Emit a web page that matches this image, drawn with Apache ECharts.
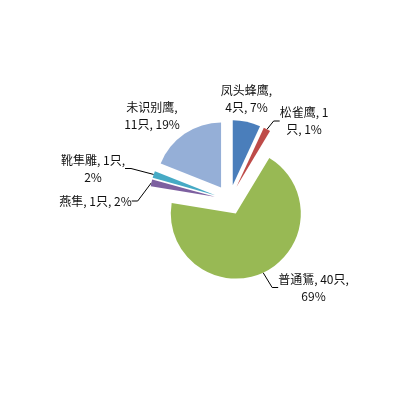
<!DOCTYPE html>
<html><head><meta charset="utf-8">
<script src="https://cdn.jsdelivr.net/npm/echarts@6/dist/echarts.min.js"></script>
<style>html,body{margin:0;padding:0;background:#fff}#c{width:420px;height:420px}</style>
</head><body><div id="c"></div>
<script>
// ---- data ----
const categories = ['凤头蜂鹰', '松雀鹰', '普通鵟', '燕隼', '靴隼雕', '未识别鹰'];
const counts = [4, 1, 40, 1, 1, 11];
const percentLabels = ['7%', '1%', '69%', '2%', '2%', '19%'];

// ---- style / layout ----
const colors = ['#4A7EBB', '#BE4B48', '#98B954', '#7D60A0', '#46AAC5', '#95AFD7'];
const firstLineChars = [5, 6, 9, 0, 8, 5];           // where each label wraps (0 = no wrap)
const labelPos = [[246.5, 98.5], [304, 121], [313.5, 287.5], [95.5, 201], [93, 168.5], [152, 116]];
const showGuide = [false, true, true, true, true, false];
const pieCenter = [229.5, 200];
const pieRadius = 65;
const explode = 15;   // slice explosion distance (px)

function labelText(i) {
  const s = categories[i] + ', ' + counts[i] + '只, ' + percentLabels[i];
  const n = firstLineChars[i];
  if (!n) return s;
  return s.slice(0, n) + '\n' + s.slice(n).replace(/^\s+/, '');
}

const total = counts.reduce((a, b) => a + b, 0);
let cum = 0;
const series = categories.map((name, i) => {
  const mid = (cum + counts[i] / 2) / total * 2 * Math.PI;  // clockwise from 12 o'clock
  cum += counts[i];
  const cx = pieCenter[0] + explode * Math.sin(mid);
  const cy = pieCenter[1] - explode * Math.cos(mid);
  return {
    type: 'pie',
    name: name,
    center: [cx, cy],
    radius: pieRadius,
    startAngle: 90,
    clockwise: true,
    avoidLabelOverlap: false,
    emphasis: { disabled: true },
    silent: true,
    itemStyle: { borderWidth: 0 },
    label: {
      show: false,
      formatter: p => labelText(p.dataIndex),
      fontFamily: '"Noto Sans CJK SC", "Noto Sans", sans-serif',
      fontSize: 12,
      lineHeight: 17,
      color: '#111'
    },
    labelLine: { show: false, length: 6, length2: 6, lineStyle: { color: '#000', width: 1 } },
    labelLayout: p => ({
      x: labelPos[p.dataIndex][0],
      y: labelPos[p.dataIndex][1],
      align: 'center',
      verticalAlign: 'middle'
    }),
    data: categories.map((n, j) => ({
      name: n,
      value: counts[j],
      itemStyle: { color: j === i ? colors[j] : 'rgba(0,0,0,0)' },
      label: { show: j === i, position: 'outside' },
      labelLine: { show: j === i && showGuide[j] }
    }))
  };
});

const chart = echarts.init(document.getElementById('c'), null, { renderer: 'canvas' });
chart.setOption({
  backgroundColor: '#ffffff',
  animation: false,
  series: series
});
</script>
</body></html>
